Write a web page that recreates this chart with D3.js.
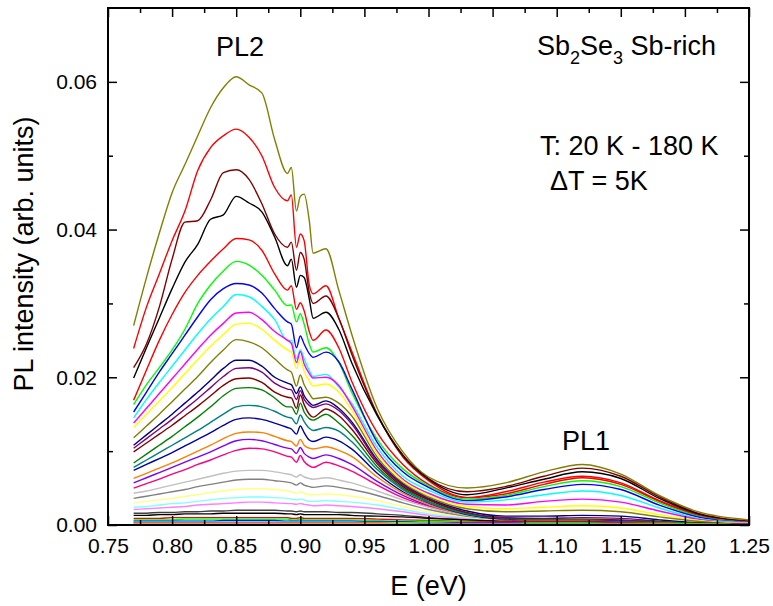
<!DOCTYPE html>
<html><head><meta charset="utf-8">
<script src="https://cdn.jsdelivr.net/npm/d3@7"></script>
<style>
body{margin:0;background:#fff}
svg text{font-family:"Liberation Sans",Arial,sans-serif;fill:#000}
</style>
</head><body>
<svg id="chart" width="773" height="606"></svg>
<script>
// Photon energy grid (eV)
const energy = [0.77,0.78,0.79,0.80,0.81,0.82,0.83,0.84,0.85,0.86,0.87,0.88,0.89,0.893,0.897,0.90,0.903,0.907,0.91,0.92,0.93,0.94,0.96,0.98,1.00,1.03,1.06,1.09,1.12,1.15,1.18,1.21,1.25];

// PL intensity spectra (arb. units), listed from strongest to weakest PL2 band
const c01 = [0.0270,0.0335,0.0395,0.0450,0.0488,0.0527,0.0565,0.0592,0.0607,0.0596,0.0585,0.0522,0.0476,0.0484,0.0425,0.0445,0.0448,0.0412,0.0368,0.0374,0.0318,0.0259,0.0158,0.0099,0.0065,0.0050,0.0057,0.0072,0.0082,0.0069,0.0040,0.0018,0.0007];
const c02 = [0.0239,0.0295,0.0340,0.0385,0.0425,0.0480,0.0511,0.0527,0.0536,0.0525,0.0500,0.0457,0.0439,0.0447,0.0376,0.0394,0.0385,0.0325,0.0313,0.0324,0.0280,0.0236,0.0150,0.0092,0.0060,0.0037,0.0045,0.0058,0.0066,0.0057,0.0033,0.0014,0.0005];
const c03 = [0.0213,0.0245,0.0295,0.0360,0.0410,0.0412,0.0440,0.0477,0.0481,0.0468,0.0435,0.0394,0.0376,0.0383,0.0345,0.0369,0.0360,0.0315,0.0300,0.0310,0.0280,0.0232,0.0150,0.0095,0.0063,0.0045,0.0052,0.0066,0.0077,0.0066,0.0038,0.0016,0.0005];
const c04 = [0.0199,0.0240,0.0280,0.0320,0.0356,0.0380,0.0414,0.0420,0.0445,0.0436,0.0424,0.0390,0.0351,0.0360,0.0322,0.0338,0.0335,0.0306,0.0280,0.0288,0.0265,0.0220,0.0148,0.0094,0.0062,0.0041,0.0050,0.0062,0.0072,0.0063,0.0036,0.0015,0.0004];
const c05 = [0.0169,0.0210,0.0250,0.0285,0.0315,0.0338,0.0357,0.0374,0.0388,0.0386,0.0372,0.0340,0.0318,0.0324,0.0292,0.0301,0.0290,0.0262,0.0250,0.0264,0.0240,0.0195,0.0125,0.0082,0.0055,0.0037,0.0042,0.0055,0.0064,0.0055,0.0032,0.0013,0.0004];
const c06 = [0.0163,0.0190,0.0213,0.0237,0.0265,0.0300,0.0325,0.0344,0.0357,0.0352,0.0338,0.0318,0.0297,0.0298,0.0275,0.0286,0.0272,0.0245,0.0234,0.0240,0.0220,0.0180,0.0116,0.0076,0.0053,0.0035,0.0040,0.0052,0.0060,0.0052,0.0030,0.0012,0.0003];
const c07 = [0.0153,0.0180,0.0207,0.0232,0.0257,0.0282,0.0305,0.0320,0.0327,0.0325,0.0314,0.0293,0.0275,0.0272,0.0240,0.0256,0.0245,0.0232,0.0227,0.0234,0.0221,0.0185,0.0112,0.0072,0.0051,0.0033,0.0038,0.0048,0.0055,0.0048,0.0027,0.0011,0.0003];
const c08 = [0.0145,0.0170,0.0193,0.0215,0.0237,0.0259,0.0279,0.0296,0.0312,0.0309,0.0296,0.0278,0.0250,0.0250,0.0225,0.0237,0.0225,0.0209,0.0201,0.0204,0.0187,0.0165,0.0105,0.0066,0.0047,0.0031,0.0034,0.0041,0.0046,0.0040,0.0023,0.0009,0.0003];
const c09 = [0.0138,0.0158,0.0178,0.0198,0.0218,0.0238,0.0257,0.0273,0.0287,0.0288,0.0278,0.0262,0.0250,0.0246,0.0220,0.0235,0.0218,0.0205,0.0199,0.0200,0.0189,0.0162,0.0100,0.0062,0.0043,0.0028,0.0027,0.0032,0.0035,0.0031,0.0019,0.0008,0.0002];
const c10 = [0.0132,0.0150,0.0168,0.0186,0.0205,0.0224,0.0242,0.0258,0.0272,0.0273,0.0265,0.0250,0.0237,0.0234,0.0212,0.0225,0.0208,0.0195,0.0188,0.0191,0.0180,0.0156,0.0096,0.0060,0.0040,0.0025,0.0022,0.0024,0.0026,0.0023,0.0014,0.0006,0.0002];
const c11 = [0.0118,0.0134,0.0150,0.0167,0.0184,0.0201,0.0220,0.0237,0.0251,0.0248,0.0240,0.0225,0.0210,0.0207,0.0188,0.0203,0.0190,0.0178,0.0171,0.0173,0.0165,0.0148,0.0092,0.0057,0.0038,0.0022,0.0018,0.0019,0.0020,0.0018,0.0011,0.0005,0.0001];
const c12 = [0.0108,0.0122,0.0136,0.0150,0.0165,0.0180,0.0196,0.0212,0.0223,0.0223,0.0215,0.0200,0.0192,0.0190,0.0178,0.0187,0.0175,0.0166,0.0162,0.0168,0.0158,0.0140,0.0088,0.0055,0.0036,0.0019,0.0012,0.0012,0.0013,0.0012,0.0007,0.0003,0.0001];
const c13 = [0.0104,0.0117,0.0130,0.0143,0.0157,0.0171,0.0186,0.0201,0.0212,0.0213,0.0207,0.0192,0.0184,0.0183,0.0170,0.0182,0.0170,0.0162,0.0159,0.0164,0.0155,0.0137,0.0086,0.0054,0.0035,0.0017,0.0010,0.0009,0.0010,0.0009,0.0005,0.0002,0.0001];
const c14 = [0.0099,0.0111,0.0123,0.0135,0.0148,0.0161,0.0175,0.0189,0.0198,0.0199,0.0193,0.0180,0.0173,0.0172,0.0158,0.0176,0.0163,0.0150,0.0146,0.0157,0.0148,0.0130,0.0083,0.0052,0.0034,0.0016,0.0009,0.0008,0.0008,0.0007,0.0004,0.0002,0.0001];
const c15 = [0.0084,0.0096,0.0108,0.0120,0.0133,0.0146,0.0160,0.0175,0.0185,0.0186,0.0183,0.0172,0.0160,0.0160,0.0150,0.0165,0.0153,0.0144,0.0142,0.0150,0.0138,0.0122,0.0079,0.0050,0.0032,0.0015,0.0008,0.0007,0.0007,0.0006,0.0004,0.0002,0.0001];
const c16 = [0.0078,0.0088,0.0098,0.0108,0.0118,0.0128,0.0139,0.0150,0.0160,0.0162,0.0160,0.0154,0.0146,0.0145,0.0137,0.0149,0.0140,0.0131,0.0128,0.0132,0.0127,0.0113,0.0075,0.0048,0.0031,0.0014,0.0007,0.0006,0.0006,0.0005,0.0003,0.0002,0.0001];
const c17 = [0.0074,0.0082,0.0090,0.0098,0.0107,0.0116,0.0125,0.0135,0.0143,0.0145,0.0143,0.0138,0.0132,0.0130,0.0123,0.0134,0.0125,0.0115,0.0113,0.0119,0.0114,0.0103,0.0070,0.0045,0.0029,0.0013,0.0007,0.0005,0.0005,0.0005,0.0003,0.0001,0.0001];
const c18 = [0.0063,0.0070,0.0077,0.0084,0.0092,0.0100,0.0108,0.0117,0.0124,0.0126,0.0125,0.0120,0.0114,0.0113,0.0107,0.0116,0.0108,0.0104,0.0103,0.0106,0.0101,0.0093,0.0065,0.0043,0.0028,0.0012,0.0006,0.0005,0.0005,0.0004,0.0003,0.0001,0.0001];
const c19 = [0.0057,0.0064,0.0071,0.0078,0.0085,0.0092,0.0099,0.0107,0.0114,0.0116,0.0114,0.0109,0.0104,0.0103,0.0097,0.0105,0.0097,0.0092,0.0090,0.0095,0.0090,0.0082,0.0059,0.0040,0.0026,0.0011,0.0006,0.0004,0.0004,0.0004,0.0002,0.0001,0.0001];
const c20 = [0.0050,0.0056,0.0062,0.0069,0.0075,0.0082,0.0088,0.0095,0.0101,0.0104,0.0103,0.0099,0.0093,0.0092,0.0085,0.0094,0.0086,0.0080,0.0078,0.0085,0.0080,0.0073,0.0054,0.0037,0.0025,0.0011,0.0005,0.0004,0.0004,0.0003,0.0002,0.0001,0.0000];
const c21 = [0.0043,0.0046,0.0050,0.0054,0.0058,0.0062,0.0066,0.0070,0.0073,0.0074,0.0074,0.0072,0.0069,0.0068,0.0065,0.0068,0.0065,0.0063,0.0062,0.0064,0.0061,0.0057,0.0046,0.0034,0.0024,0.0012,0.0005,0.0003,0.0003,0.0003,0.0002,0.0001,0.0000];
const c22 = [0.0036,0.0039,0.0042,0.0045,0.0048,0.0052,0.0055,0.0058,0.0061,0.0062,0.0062,0.0060,0.0058,0.0057,0.0054,0.0057,0.0054,0.0052,0.0051,0.0053,0.0051,0.0048,0.0040,0.0030,0.0021,0.0011,0.0005,0.0003,0.0003,0.0002,0.0001,0.0001,0.0000];
const c23 = [0.0030,0.0032,0.0034,0.0036,0.0039,0.0041,0.0044,0.0046,0.0048,0.0049,0.0049,0.0048,0.0046,0.0045,0.0043,0.0045,0.0043,0.0041,0.0041,0.0042,0.0041,0.0039,0.0033,0.0025,0.0018,0.0010,0.0005,0.0003,0.0002,0.0002,0.0001,0.0001,0.0000];
const c24 = [0.0024,0.0025,0.0027,0.0029,0.0030,0.0032,0.0034,0.0036,0.0037,0.0038,0.0038,0.0037,0.0036,0.0035,0.0034,0.0035,0.0034,0.0032,0.0032,0.0033,0.0032,0.0031,0.0027,0.0021,0.0015,0.0009,0.0004,0.0002,0.0002,0.0002,0.0001,0.0001,0.0000];
const c25 = [0.0021,0.0022,0.0023,0.0024,0.0025,0.0027,0.0028,0.0029,0.0030,0.0031,0.0031,0.0030,0.0029,0.0029,0.0028,0.0029,0.0028,0.0027,0.0026,0.0027,0.0026,0.0025,0.0022,0.0018,0.0013,0.0008,0.0004,0.0002,0.0002,0.0001,0.0001,0.0000,0.0000];
const c26 = [0.0016,0.0016,0.0017,0.0017,0.0018,0.0018,0.0019,0.0019,0.0020,0.0020,0.0020,0.0020,0.0019,0.0019,0.0018,0.0019,0.0018,0.0018,0.0018,0.0018,0.0017,0.0017,0.0015,0.0013,0.0010,0.0007,0.0004,0.0003,0.0003,0.0002,0.0001,0.0001,0.0000];
const c27 = [0.0013,0.0013,0.0014,0.0014,0.0015,0.0015,0.0015,0.0016,0.0016,0.0016,0.0016,0.0016,0.0015,0.0015,0.0014,0.0015,0.0014,0.0014,0.0014,0.0014,0.0014,0.0013,0.0012,0.0011,0.0009,0.0007,0.0005,0.0004,0.0004,0.0003,0.0002,0.0001,0.0000];
const c28 = [0.0009,0.0009,0.0009,0.0010,0.0010,0.0010,0.0010,0.0010,0.0010,0.0010,0.0010,0.0010,0.0010,0.0009,0.0009,0.0010,0.0009,0.0009,0.0009,0.0009,0.0009,0.0009,0.0008,0.0007,0.0006,0.0005,0.0004,0.0004,0.0004,0.0003,0.0002,0.0001,0.0000];
const c29 = [0.0007,0.0007,0.0007,0.0007,0.0008,0.0008,0.0008,0.0008,0.0008,0.0008,0.0008,0.0008,0.0008,0.0007,0.0007,0.0008,0.0007,0.0007,0.0007,0.0007,0.0007,0.0007,0.0006,0.0005,0.0005,0.0004,0.0003,0.0003,0.0003,0.0002,0.0002,0.0001,0.0000];
const c30 = [0.0005,0.0005,0.0005,0.0005,0.0005,0.0005,0.0005,0.0006,0.0006,0.0006,0.0006,0.0006,0.0005,0.0005,0.0005,0.0005,0.0005,0.0005,0.0005,0.0005,0.0005,0.0005,0.0004,0.0004,0.0003,0.0003,0.0003,0.0002,0.0002,0.0002,0.0001,0.0001,0.0000];
const c31 = [0.0004,0.0004,0.0004,0.0004,0.0004,0.0004,0.0004,0.0004,0.0004,0.0004,0.0004,0.0004,0.0004,0.0004,0.0004,0.0004,0.0004,0.0004,0.0004,0.0004,0.0004,0.0004,0.0003,0.0003,0.0003,0.0002,0.0002,0.0002,0.0002,0.0001,0.0001,0.0001,0.0000];
const c32 = [0.0003,0.0003,0.0003,0.0003,0.0003,0.0003,0.0003,0.0003,0.0003,0.0003,0.0003,0.0003,0.0003,0.0003,0.0003,0.0003,0.0003,0.0003,0.0003,0.0003,0.0003,0.0003,0.0003,0.0002,0.0002,0.0002,0.0002,0.0001,0.0001,0.0001,0.0001,0.0000,0.0000];
const c33 = [0.0002,0.0002,0.0002,0.0002,0.0002,0.0002,0.0002,0.0002,0.0002,0.0002,0.0002,0.0002,0.0002,0.0002,0.0002,0.0002,0.0002,0.0002,0.0002,0.0002,0.0002,0.0002,0.0002,0.0002,0.0001,0.0001,0.0001,0.0001,0.0001,0.0001,0.0001,0.0001,0.0000];
const c34 = [0.0001,0.0001,0.0001,0.0001,0.0001,0.0001,0.0001,0.0001,0.0001,0.0001,0.0001,0.0001,0.0001,0.0001,0.0001,0.0001,0.0001,0.0001,0.0001,0.0001,0.0001,0.0001,0.0001,0.0001,0.0001,0.0001,0.0001,0.0001,0.0001,0.0001,0.0001,0.0001,0.0000];

const seriesValues = [c01,c02,c03,c04,c05,c06,c07,c08,c09,c10,c11,c12,c13,c14,c15,c16,c17,c18,c19,c20,c21,c22,c23,c24,c25,c26,c27,c28,c29,c30,c31,c32,c33,c34];
const seriesColors = ["#808000","#FF0000","#800000","#000000","#FF0000","#00FF00","#0000FF","#00FFFF","#FF00FF","#FFFF00","#808000","#000080","#800080","#800000","#008000","#008080","#0000A0","#FF8000","#8000FF","#FF0080","#C0C0C0","#808080","#FFFF80","#80FFFF","#FF80FF","#404040","#000000","#FF0000","#00FF00","#0000FF","#00FFFF","#FF00FF","#FFFF00","#808000"];

const xMajorTicks = [0.75,0.80,0.85,0.90,0.95,1.00,1.05,1.10,1.15,1.20,1.25];
const xMinorTicks = [0.775,0.825,0.875,0.925,0.975,1.025,1.075,1.125,1.175,1.225];
const yMajorTicks = [0.00,0.02,0.04,0.06];
const yMinorTicks = [0.01,0.03,0.05];
const xTitle = "E (eV)";
const yTitle = "PL intensity (arb. units)";

const svg = d3.select("#chart");
const L=108, R=749, T=8, B=525;
const x = d3.scaleLinear().domain([0.75,1.25]).range([L,R]);
const y = d3.scaleLinear().domain([0,0.07]).range([B,T]);

// curves
const line = d3.line().x((d,i)=>x(energy[i])).y(d=>y(d)).curve(d3.curveMonotoneX);
svg.append("g").selectAll("path").data(seriesValues).join("path")
  .attr("d", d=>line(d))
  .attr("fill","none")
  .attr("stroke",(d,i)=>seriesColors[i])
  .attr("stroke-width",1.4)
  .attr("stroke-linejoin","round");

function styleAxis(g){
  g.select(".domain").remove();
  g.selectAll(".tick line").attr("stroke","#000").attr("stroke-width",1.5);
  g.selectAll("text").attr("font-size",21).attr("fill","#000").attr("font-family","Liberation Sans, Arial, sans-serif");
}
// bottom
svg.append("g").attr("transform",`translate(0,${B})`)
  .call(d3.axisBottom(x).tickValues(xMajorTicks).tickFormat(d3.format(".2f")).tickSizeInner(-9).tickSizeOuter(0).tickPadding(13))
  .call(styleAxis);
svg.append("g").attr("transform",`translate(0,${B})`)
  .call(d3.axisBottom(x).tickValues(xMinorTicks).tickFormat("").tickSizeInner(-5).tickSizeOuter(0))
  .call(styleAxis);
// top
svg.append("g").attr("transform",`translate(0,${T})`)
  .call(d3.axisTop(x).tickValues(xMajorTicks).tickFormat("").tickSizeInner(-9).tickSizeOuter(0))
  .call(styleAxis);
svg.append("g").attr("transform",`translate(0,${T})`)
  .call(d3.axisTop(x).tickValues(xMinorTicks).tickFormat("").tickSizeInner(-5).tickSizeOuter(0))
  .call(styleAxis);
// left
svg.append("g").attr("transform",`translate(${L},0)`)
  .call(d3.axisLeft(y).tickValues(yMajorTicks).tickFormat(d3.format(".2f")).tickSizeInner(-9).tickSizeOuter(0).tickPadding(11))
  .call(styleAxis);
svg.append("g").attr("transform",`translate(${L},0)`)
  .call(d3.axisLeft(y).tickValues(yMinorTicks).tickFormat("").tickSizeInner(-5).tickSizeOuter(0))
  .call(styleAxis);
// right
svg.append("g").attr("transform",`translate(${R},0)`)
  .call(d3.axisRight(y).tickValues(yMajorTicks).tickFormat("").tickSizeInner(-9).tickSizeOuter(0))
  .call(styleAxis);
svg.append("g").attr("transform",`translate(${R},0)`)
  .call(d3.axisRight(y).tickValues(yMinorTicks).tickFormat("").tickSizeInner(-5).tickSizeOuter(0))
  .call(styleAxis);

// frame
svg.append("rect").attr("x",L).attr("y",T).attr("width",R-L).attr("height",B-T)
  .attr("fill","none").attr("stroke","#000").attr("stroke-width",2);

// titles
svg.append("text").attr("x",(L+R)/2).attr("y",595).attr("text-anchor","middle")
  .attr("font-size",27).text(xTitle);
svg.append("text").attr("transform",`translate(33,254) rotate(-90)`).attr("text-anchor","middle")
  .attr("font-size",27).text(yTitle);

// annotations
svg.append("text").attr("x",240).attr("y",56).attr("text-anchor","middle").attr("font-size",27).text("PL2");
svg.append("text").attr("x",586).attr("y",450).attr("text-anchor","middle").attr("font-size",27).text("PL1");
const sb = svg.append("text").attr("x",537).attr("y",55).attr("font-size",27);
sb.append("tspan").text("Sb");
sb.append("tspan").attr("font-size",18).attr("dy",9).text("2");
sb.append("tspan").attr("dy",-9).text("Se");
sb.append("tspan").attr("font-size",18).attr("dy",9).text("3");
sb.append("tspan").attr("dy",-9).text(" Sb-rich");
svg.append("text").attr("x",540).attr("y",155).attr("font-size",27).text("T: 20 K - 180 K");
svg.append("text").attr("x",550).attr("y",190).attr("font-size",27).text("\u0394T = 5K");
</script>
</body></html>
